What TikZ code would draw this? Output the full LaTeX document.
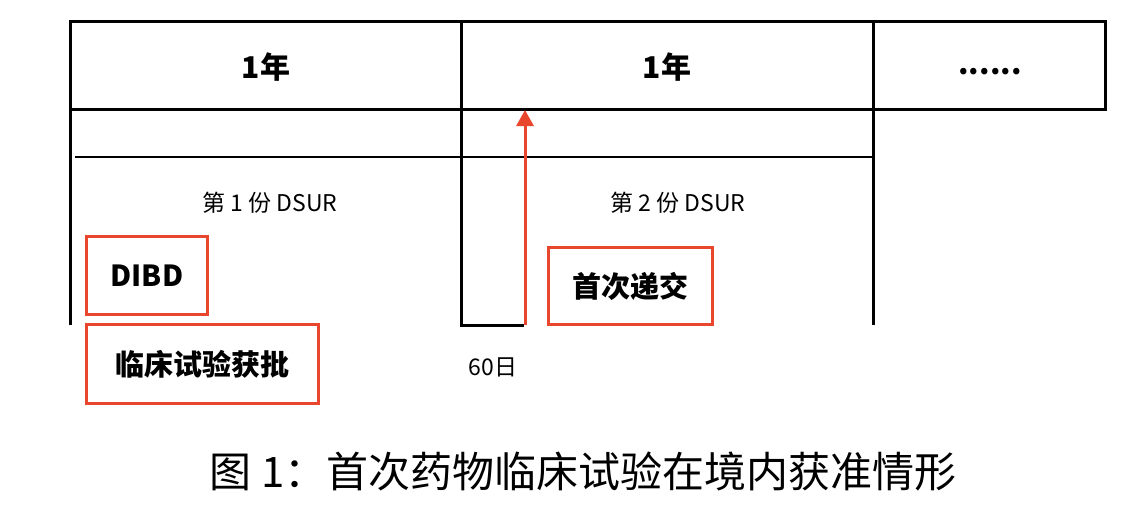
\documentclass[tikz,border=0pt]{standalone}
\usepackage{fontspec}
\setmainfont{Noto Sans CJK SC}
\usetikzlibrary{arrows.meta}
\definecolor{boxred}{HTML}{E8472D}
\tikzset{
  frame/.style={line width=3pt, black},
  thinline/.style={line width=2pt, black},
  redbox/.style={draw=boxred, line width=3pt, inner sep=0pt, anchor=north west,
    font=\fontsize{29}{32}\selectfont\bfseries},
  yeartext/.style={font=\fontsize{30}{34}\selectfont\bfseries},
  plaintext/.style={font=\fontsize{23}{26}\selectfont},
  captext/.style={font=\fontsize{42}{46}\selectfont},
  redarrow/.style={draw=boxred, line width=3pt, -{Triangle[length=16pt,width=17pt]}}
}
\begin{document}
\begin{tikzpicture}[x=1pt,y=-1pt]
\useasboundingbox (0,0) rectangle (1135,511);
% table frame
\draw[frame] (70,22) rectangle (1105,109);
\draw[frame] (461,22) -- (461,325) -- (524,325);
\draw[frame] (873,22) -- (873,325);
\draw[frame] (70,109) -- (70,325);
\draw[thinline] (75,157) -- (873,157);
% header texts
\node[yeartext] (y1) at (266,67) {1年};
\node[yeartext] (y2) at (667,67) {1年};
\node[yeartext] (dots) at (990,72) {......};
% DSUR labels
\node[plaintext] (d1) at (270,203) {第 1 份 DSUR};
\node[plaintext] (d2) at (678,203) {第 2 份 DSUR};
% red boxes
\node[redbox, minimum width=121pt, minimum height=78pt] (dibd) at (85,235) {DIBD};
\node[redbox, minimum width=164pt, minimum height=77pt] (first) at (547,246) {首次递交};
\node[redbox, minimum width=232pt, minimum height=79pt] (approve) at (85,323) {临床试验获批};
% 60 days
\node[plaintext] (sixty) at (493,367) {60日};
% arrow
\coordinate (astart) at (525,325);
\coordinate (aend) at (525,110);
\draw[redarrow] (astart) -- (aend);
% caption
\node[captext] (cap) at (583,472) {图 1：首次药物临床试验在境内获准情形};
\end{tikzpicture}
\end{document}
